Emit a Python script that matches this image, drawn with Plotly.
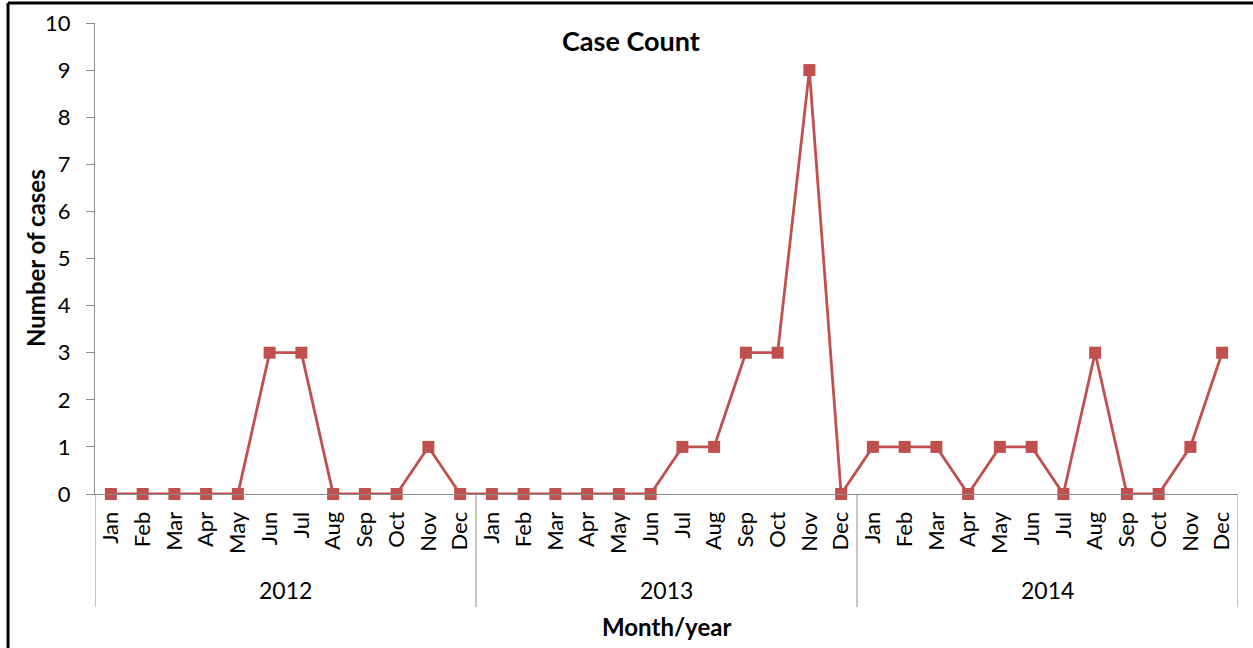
import plotly.graph_objects as go

years = ["2012", "2013", "2014"]
months = ["Jan", "Feb", "Mar", "Apr", "May", "Jun", "Jul", "Aug", "Sep", "Oct", "Nov", "Dec"]
cases_2012 = [0, 0, 0, 0, 0, 3, 3, 0, 0, 0, 1, 0]
cases_2013 = [0, 0, 0, 0, 0, 0, 1, 1, 3, 3, 9, 0]
cases_2014 = [1, 1, 1, 0, 1, 1, 0, 3, 0, 0, 1, 3]
y_ticks = list(range(0, 11))

values = cases_2012 + cases_2013 + cases_2014
n = len(values)
xs = list(range(n))
labels = months * len(years)

color = "#C0504D"
axis_grey = "#8c8c8c"
FONT = "Lato, 'Open Sans', sans-serif"

fig = go.Figure()
fig.add_trace(go.Scatter(
    x=xs, y=values, mode="lines+markers",
    line=dict(color=color, width=2.8),
    marker=dict(symbol="square", size=12, color=color),
    cliponaxis=False, showlegend=False,
))

shapes = []
# year separators
for i in range(len(years) + 1):
    xv = i * 12 - 0.5
    shapes.append(dict(type="line", xref="x", yref="paper", x0=xv, x1=xv,
                       y0=0, y1=-0.24, line=dict(color=axis_grey, width=1)))
# outer frame (left & top)
shapes.append(dict(type="line", xref="paper", yref="paper",
                   x0=-0.0761, x1=-0.0761, y0=1.0425, y1=-0.35,
                   line=dict(color="black", width=3)))
shapes.append(dict(type="line", xref="paper", yref="paper",
                   x0=-0.0761, x1=1.02, y0=1.0425, y1=1.0425,
                   line=dict(color="black", width=3)))

annotations = []
for i, yr in enumerate(years):
    annotations.append(dict(x=i * 12 + 5.5, y=-0.204, xref="x", yref="paper",
                            text=yr, showarrow=False, yanchor="middle",
                            font=dict(family=FONT, size=23, color="black")))
annotations.append(dict(x=0.5004, y=-0.282, xref="paper", yref="paper",
                        text="<b>Month/year</b>", showarrow=False, yanchor="middle",
                        font=dict(family=FONT, size=24, color="black")))
annotations.append(dict(x=0.469, y=0.962, xref="paper", yref="paper",
                        text="<b>Case Count</b>", showarrow=False, yanchor="middle",
                        font=dict(family=FONT, size=27, color="black")))
annotations.append(dict(x=-0.0525, y=0.501, xref="paper", yref="paper",
                        text="<b>Number of cases</b>", showarrow=False,
                        textangle=-90, xanchor="center", yanchor="middle",
                        font=dict(family=FONT, size=24, color="black")))

fig.update_layout(
    width=1253, height=648,
    margin=dict(l=95, r=15, t=23, b=154, autoexpand=False),
    paper_bgcolor="white", plot_bgcolor="white",
    shapes=shapes, annotations=annotations,
    font=dict(family=FONT, color="black"),
)
fig.update_xaxes(
    range=[-0.5, n - 0.5], tickmode="array", tickvals=xs, ticktext=labels,
    tickangle=-90, tickfont=dict(family=FONT, size=22, color="black"),
    showgrid=False, zeroline=False, showline=True, linecolor=axis_grey,
    linewidth=1, ticks="", automargin=False, ticklabelstandoff=8,
)
fig.update_yaxes(
    range=[0, 10], tickmode="array", tickvals=y_ticks,
    tickfont=dict(family=FONT, size=22, color="black"),
    showgrid=False, zeroline=False, showline=True, linecolor=axis_grey,
    linewidth=1, ticks="outside", ticklen=8, tickcolor=axis_grey,
    ticklabelstandoff=11, automargin=False,
)

fig.write_html("out.html", config={"displayModeBar": False},
               post_script="document.body.style.margin='0';document.body.style.overflow='hidden';")
